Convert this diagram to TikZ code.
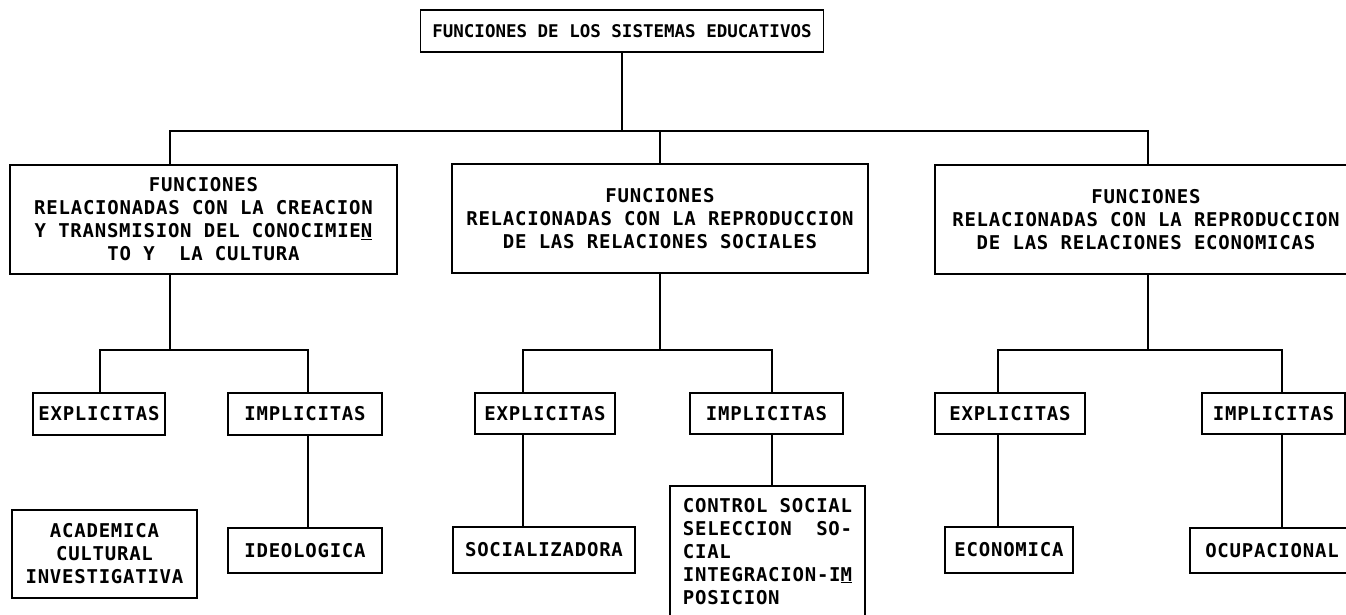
\documentclass[tikz,border=0pt]{standalone}
\usepackage{fontspec}
\usepackage{tikz}
\newfontfamily\typefont{DejaVu Sans Mono}[LetterSpace=4]
\newfontfamily\titlefont{DejaVu Sans Mono}

\begin{document}
\begin{tikzpicture}[x=1pt,y=-1pt,
  box/.style={draw,line width=1.8pt,inner sep=0pt,align=center,
    font=\typefont\bfseries\fontsize{19}{23}\selectfont},
  wire/.style={line width=1.8pt}]
  \useasboundingbox (0,0) rectangle (1346,615);
  \clip (0,0) rectangle (1346,615);
  % top
  \node[box,minimum width=403pt,minimum height=42pt,
    font=\titlefont\bfseries\fontsize{17.5}{21}\selectfont] (top) at (622,31) {FUNCIONES DE LOS SISTEMAS EDUCATIVOS};
  % groups
  \node[box,minimum width=387pt,minimum height=109pt] (c1) at (203.5,219.5) {FUNCIONES\\RELACIONADAS CON LA CREACION\\Y TRANSMISION DEL CONOCIMIE\underline{N}\\TO Y\ \ LA CULTURA};
  \node[box,minimum width=416pt,minimum height=109pt] (c2) at (660,218.5) {FUNCIONES\\RELACIONADAS CON LA REPRODUCCION\\DE LAS RELACIONES SOCIALES};
  \node[box,minimum width=422pt,minimum height=109pt] (c3) at (1146,219.5) {FUNCIONES\\RELACIONADAS CON LA REPRODUCCION\\DE LAS RELACIONES ECONOMICAS};
  % explicitas / implicitas
  \node[box,minimum width=132pt,minimum height=42pt] (e1) at (99,414) {EXPLICITAS};
  \node[box,minimum width=154pt,minimum height=42pt] (i1) at (305,414) {IMPLICITAS};
  \node[box,minimum width=140pt,minimum height=41pt] (e2) at (545,413.5) {EXPLICITAS};
  \node[box,minimum width=153pt,minimum height=41pt] (i2) at (766.5,413.5) {IMPLICITAS};
  \node[box,minimum width=150pt,minimum height=41pt] (e3) at (1010,413.5) {EXPLICITAS};
  \node[box,minimum width=143pt,minimum height=41pt] (i3) at (1273.5,413.5) {IMPLICITAS};
  % bottom row
  \node[box,minimum width=185pt,minimum height=88pt] (acad) at (104.5,554) {ACADEMICA\\CULTURAL\\INVESTIGATIVA};
  \node[box,minimum width=154pt,minimum height=45pt] (ideo) at (305,550.5) {IDEOLOGICA};
  \node[box,minimum width=182pt,minimum height=46pt] (socz) at (544,550) {SOCIALIZADORA};
  \node[box,anchor=north,minimum width=195pt,inner ysep=12pt,align=left] (ctrl) at (767.5,485) {CONTROL SOCIAL\\SELECCION\ \ SO-\\CIAL\\INTEGRACION-I\underline{M}\\POSICION\\[12pt]\mbox{}};
  \node[box,minimum width=128pt,minimum height=46pt] (econ) at (1009,550) {ECONOMICA};
  \node[box,minimum width=164pt,minimum height=45pt] (ocup) at (1272,550.5) {OCUPACIONAL};
  % connectors
  \coordinate (j1) at (170,131);
  \coordinate (j3) at (1148,131);
  \coordinate (d1) at (170,350);
  \coordinate (l1) at (100,350);
  \coordinate (r1) at (308,350);
  \coordinate (l2) at (523,350);
  \coordinate (r2) at (772,350);
  \coordinate (l3) at (998,350);
  \coordinate (r3) at (1282,350);
  \draw[wire] (top.south) -- (top.south |- j1);
  \draw[wire] (j1 |- c1.north) -- (j1) -- (j3) -- (j3 |- c3.north);
  \draw[wire] (c2.north) -- (c2.north |- j1);
  \draw[wire] (c1.south -| d1) -- (d1);
  \draw[wire] (l1 |- e1.north) -- (l1) -- (r1) -- (r1 |- i1.north);
  \draw[wire] (i1.south -| r1) -- (r1 |- ideo.north);
  \draw[wire] (c2.south) -- (c2.south |- l2);
  \draw[wire] (l2 |- e2.north) -- (l2) -- (r2) -- (r2 |- i2.north);
  \draw[wire] (e2.south -| l2) -- (l2 |- socz.north);
  \draw[wire] (i2.south -| r2) -- (r2 |- ctrl.north);
  \draw[wire] (c3.south -| j3) -- (j3 |- l3);
  \draw[wire] (l3 |- e3.north) -- (l3) -- (r3) -- (r3 |- i3.north);
  \draw[wire] (e3.south -| l3) -- (l3 |- econ.north);
  \draw[wire] (i3.south -| r3) -- (r3 |- ocup.north);
\end{tikzpicture}
\end{document}
